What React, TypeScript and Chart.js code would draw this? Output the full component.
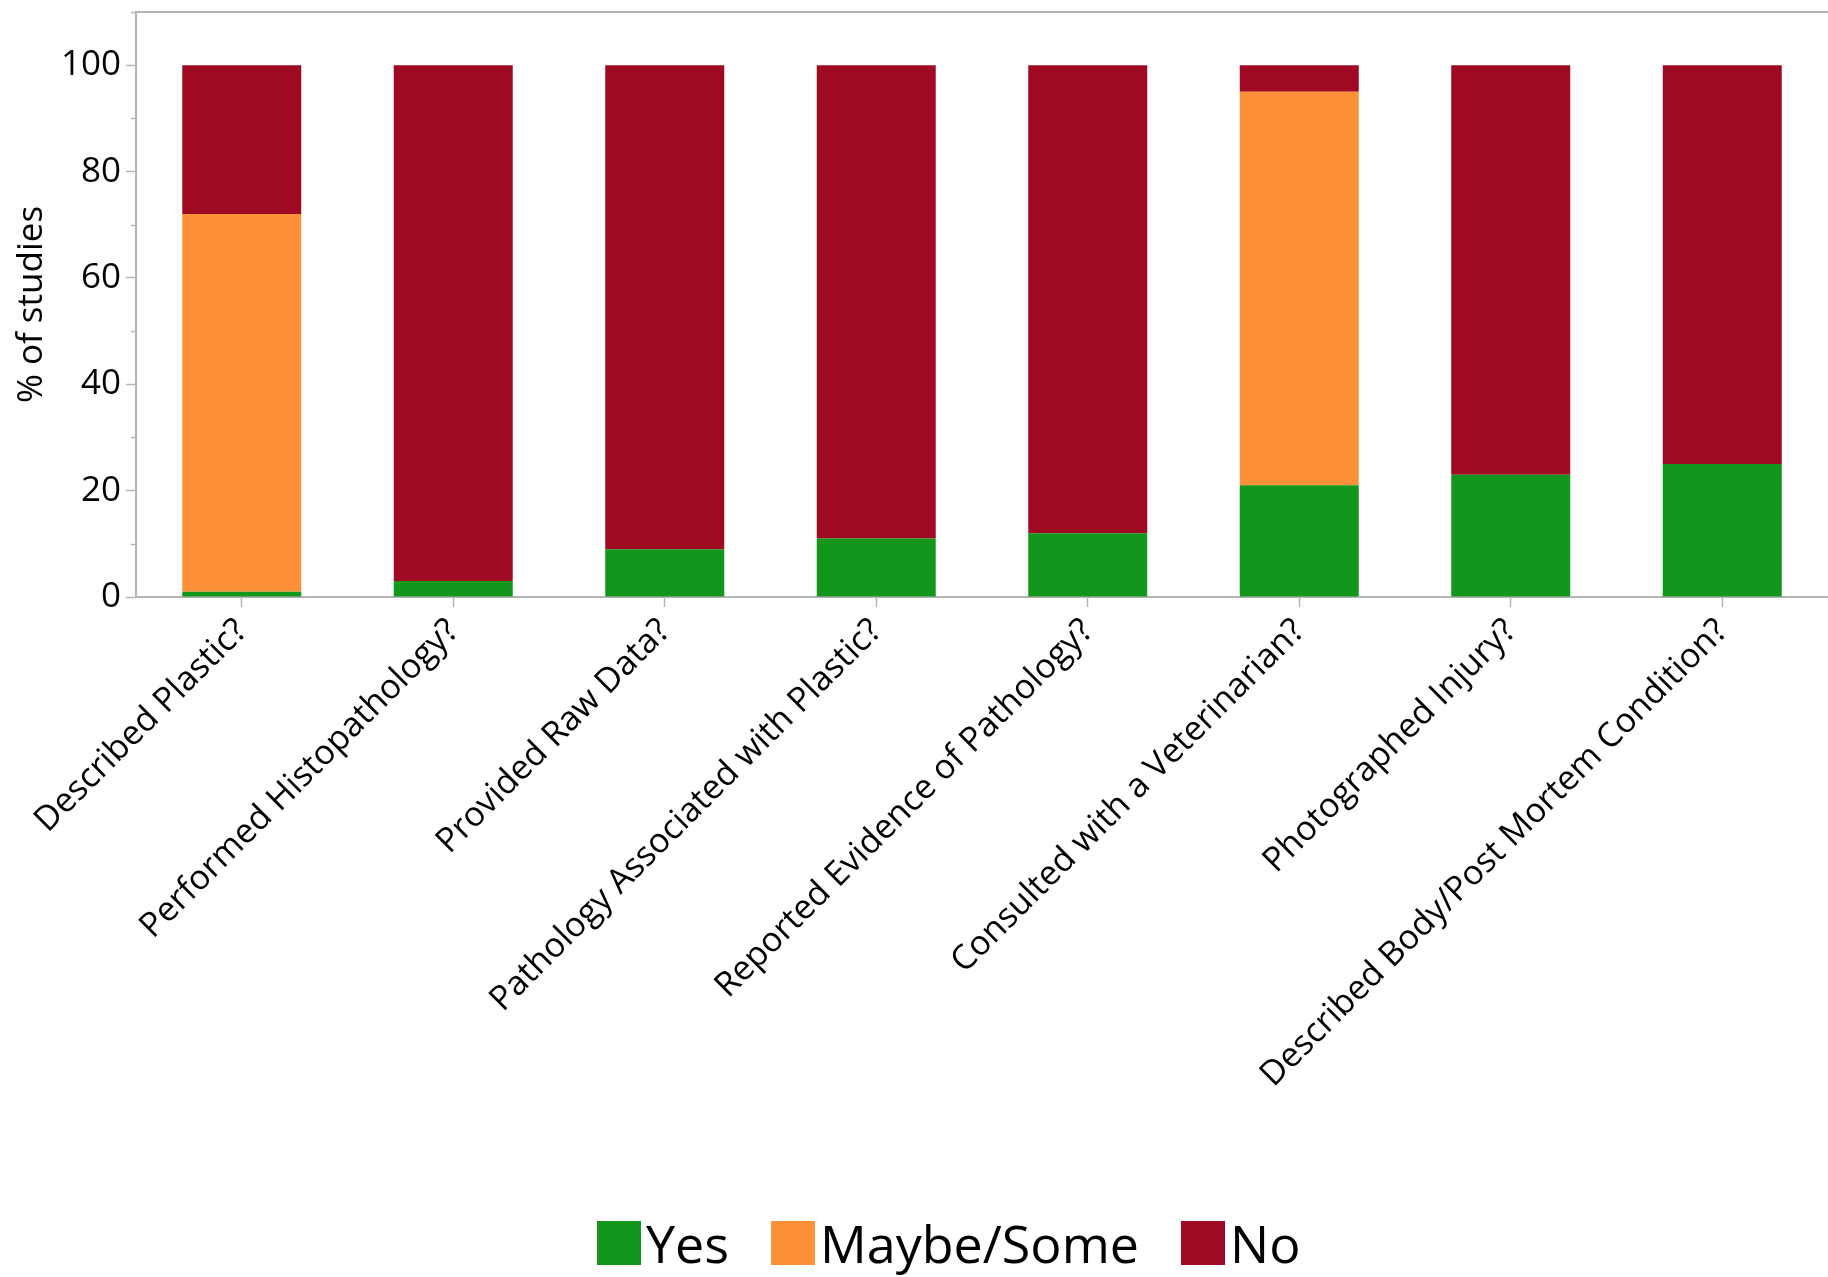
import React, { useEffect, useRef } from "react";
import { Chart, registerables } from "chart.js";

Chart.register(...registerables);

const categories = [
  "Described Plastic?",
  "Performed Histopathology?",
  "Provided Raw Data?",
  "Pathology Associated with Plastic?",
  "Reported Evidence of Pathology?",
  "Consulted with a Veterinarian?",
  "Photographed Injury?",
  "Described Body/Post Mortem Condition?",
];
const seriesNames = ["Yes", "Maybe/Some", "No"];
const yesValues = [1, 3, 9, 11, 12, 21, 23, 25];
const maybeValues = [71, 0, 0, 0, 0, 74, 0, 0];
const noValues = [28, 97, 91, 89, 88, 5, 77, 75];
const seriesColors = ["#12961c", "#fe9138", "#9f0a23"];
const yTickLabels = [0, 20, 40, 60, 80, 100];
const yMinorTicks = [10, 30, 50, 70, 90, 110];
const yAxisTitle = "% of studies";

const AXIS = "#b4b4b4";
const FONT = "'Open Sans', 'Noto Sans', sans-serif";

const minorTickPlugin = {
  id: "minorTicks",
  afterDraw(chart: any) {
    const y = chart.scales.y;
    const ctx = chart.ctx;
    ctx.save();
    ctx.strokeStyle = AXIS;
    ctx.lineWidth = 1.5;
    for (const v of yMinorTicks) {
      const py = Math.round(y.getPixelForValue(v)) + 0.5;
      ctx.beginPath();
      ctx.moveTo(chart.chartArea.left - 5, py);
      ctx.lineTo(chart.chartArea.left, py);
      ctx.stroke();
    }
    ctx.restore();
  },
};

export default function App() {
  const canvasRef = useRef<HTMLCanvasElement | null>(null);

  useEffect(() => {
    document.body.style.margin = "0";
    const canvas = canvasRef.current;
    if (!canvas) return;
    const chart = new Chart(canvas, {
      type: "bar",
      data: {
        labels: categories,
        datasets: [
          { label: seriesNames[0], data: yesValues, backgroundColor: seriesColors[0] },
          { label: seriesNames[1], data: maybeValues, backgroundColor: seriesColors[1] },
          { label: seriesNames[2], data: noValues, backgroundColor: seriesColors[2] },
        ],
      },
      options: {
        animation: false,
        responsive: false,
        devicePixelRatio: 1,
        layout: { padding: { top: 0, left: 0, bottom: 0, right: -6 } },
        datasets: {
          bar: { barPercentage: 0.5626, categoryPercentage: 1, borderWidth: 0 },
        },
        plugins: {
          legend: { display: false },
          tooltip: { enabled: false },
        },
        scales: {
          x: {
            stacked: true,
            grid: {
              display: true,
              drawOnChartArea: false,
              offset: false,
              tickLength: 10,
              tickColor: AXIS,
              tickWidth: 1.5,
              color: AXIS,
            },
            border: { display: true, color: AXIS, width: 2 },
            ticks: {
              autoSkip: false,
              minRotation: 45,
              maxRotation: 45,
              color: "#000",
              padding: 4,
              font: { family: FONT, size: 34 },
            },
            afterFit: (s: any) => {
              s.height = 680;
            },
          },
          x2: {
            type: "category",
            position: "top",
            labels: categories,
            grid: { display: false },
            ticks: { display: false },
            border: { display: true, color: AXIS, width: 2 },
            afterFit: (s: any) => {
              s.height = 12;
              s.paddingLeft = 0;
              s.paddingRight = 0;
            },
          },
          y: {
            stacked: true,
            min: 0,
            max: 110,
            ticks: {
              stepSize: 10,
              color: "#000",
              padding: 5,
              font: { family: FONT, size: 35 },
              callback: (v: any) => (yTickLabels.includes(Number(v)) ? String(v) : ""),
            },
            grid: {
              drawOnChartArea: false,
              tickLength: 10,
              tickWidth: 1.5,
              tickColor: (c: any) =>
                yTickLabels.includes(Number(c.tick && c.tick.value)) ? AXIS : "rgba(0,0,0,0)",
            },
            border: { display: true, color: AXIS, width: 2 },
            title: {
              display: true,
              text: yAxisTitle,
              color: "#000",
              font: { family: FONT, size: 35 },
              padding: { top: 11, bottom: 0 },
            },
            afterFit: (s: any) => {
              s.width = 136;
              s.paddingTop = 0;
              s.paddingBottom = 0;
            },
          },
        },
      },
      plugins: [minorTickPlugin],
    } as any);
    return () => chart.destroy();
  }, []);

  return (
    <div style={{ position: "relative", width: 1828, height: 1277, background: "#fff", overflow: "hidden" }}>
      <canvas ref={canvasRef} width={1828} height={1277} style={{ display: "block", width: 1828, height: 1277 }} />
      <div
        style={{
          position: "absolute",
          left: 597,
          top: 1221,
          height: 44,
          display: "flex",
          alignItems: "center",
          gap: 42,
          fontFamily: FONT,
          fontSize: 52,
          lineHeight: 1,
          color: "#000",
        }}
      >
        {seriesNames.map((name, i) => (
          <div key={name} style={{ display: "flex", alignItems: "center", gap: 5 }}>
            <div style={{ width: 44, height: 44, background: seriesColors[i] }} />
            <span>{name}</span>
          </div>
        ))}
      </div>
    </div>
  );
}
